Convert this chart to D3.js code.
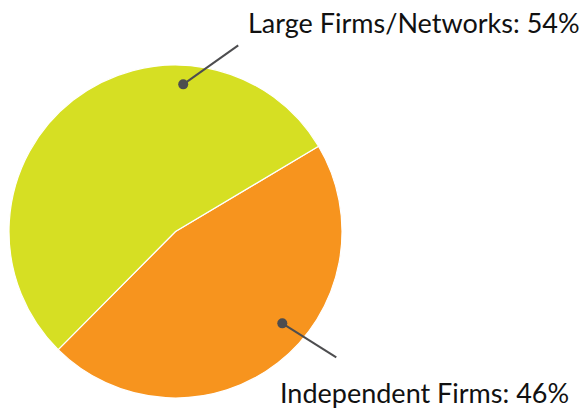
<!DOCTYPE html>
<html>
<head>
<meta charset="utf-8">
<script src="https://cdn.jsdelivr.net/npm/d3@7"></script>
<style>
  body { margin: 0; background: #fff; }
  text { font-family: Lato, "Open Sans", sans-serif; fill: #111; }
</style>
</head>
<body>
<svg id="chart" width="584" height="408"></svg>
<script>
// data
const categories = ['Independent Firms', 'Large Firms/Networks'];
const shares = [46, 54];
const colors = ['#F7941E', '#D6DF23'];

const width = 584, height = 408;
const cx = 175.5, cy = 231.5, radius = 166.5;

// where each callout dot sits (angle in degrees clockwise from top, fraction of radius)
// and where the leader line ends / label sits
const callouts = [
  { angle: 130.7, r: 0.846, dx: 54, dy: 34, tx: 280, ty: 403 },
  { angle: 3, r: 0.885, dx: 55, dy: -39, tx: 248, ty: 33 }
];

const svg = d3.select('#chart');
const g = svg.append('g').attr('transform', `translate(${cx},${cy})`);

const pie = d3.pie()
  .sort(null)
  .value(d => d)
  .startAngle(59.2 * Math.PI / 180)
  .endAngle((59.2 + 360) * Math.PI / 180);

const arc = d3.arc().innerRadius(0).outerRadius(radius);

g.selectAll('path')
  .data(pie(shares))
  .enter()
  .append('path')
  .attr('d', arc)
  .attr('fill', (d, i) => colors[i])
  .attr('stroke', '#fff')
  .attr('stroke-width', 1.2);

callouts.forEach((c, i) => {
  let a = c.angle * Math.PI / 180;
  let x = Math.sin(a) * radius * c.r,
      y = -Math.cos(a) * radius * c.r;

  g.append('line')
    .attr('x1', x).attr('y1', y)
    .attr('x2', x + c.dx).attr('y2', y + c.dy)
    .attr('stroke', '#4d4d4f')
    .attr('stroke-width', 2);

  g.append('circle')
    .attr('cx', x).attr('cy', y)
    .attr('r', 5)
    .attr('fill', '#4d4d4f');

  svg.append('text')
    .attr('x', c.tx)
    .attr('y', c.ty)
    .style('font-size', '27px')
    .text(categories[i] + ': ' + shares[i] + '%');
});
</script>
</body>
</html>
